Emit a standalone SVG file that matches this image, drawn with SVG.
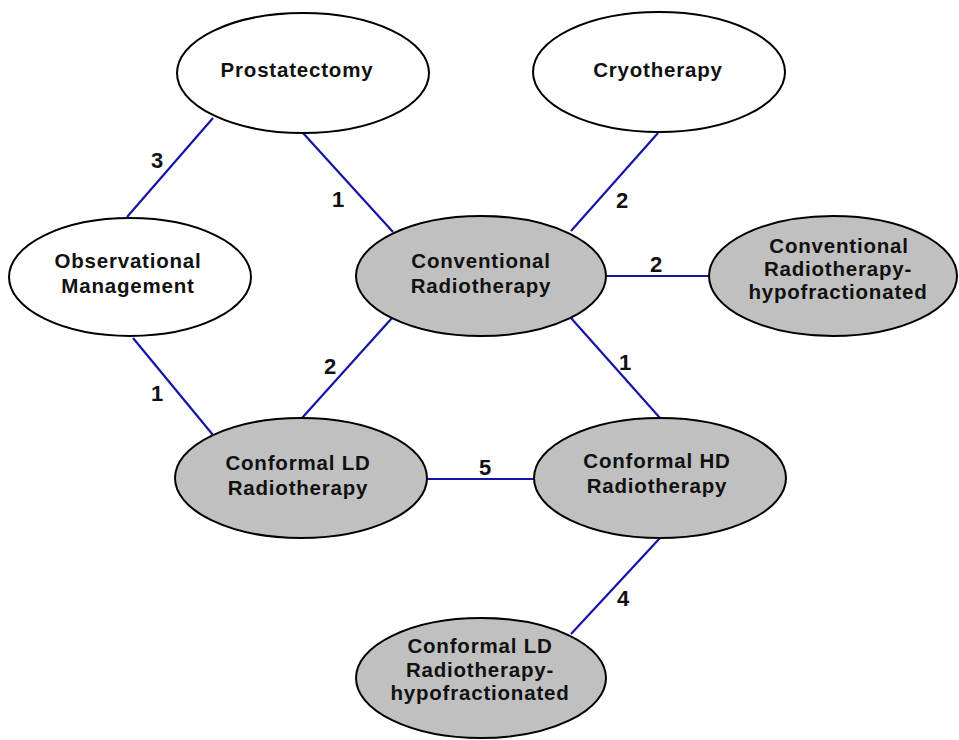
<svg xmlns="http://www.w3.org/2000/svg" width="959" height="740" viewBox="0 0 959 740">
<style>
.n{stroke:#000;stroke-width:2}
.w{fill:#fff}
.g{fill:#c0c0c0}
.t{font-family:"Liberation Sans",Arial,sans-serif;font-weight:bold;font-size:20.5px;letter-spacing:0.8px;fill:#111;text-anchor:middle}
.e{stroke:#1414a8;stroke-width:2.2;fill:none}
.l{font-family:"Liberation Sans",Arial,sans-serif;font-weight:bold;font-size:22px;fill:#111;text-anchor:middle}
</style>
<rect width="959" height="740" fill="#fff"/>
<g id="connectors">
<line class="e" x1="213" y1="118" x2="127" y2="217"/>
<line class="e" x1="303" y1="133" x2="393" y2="232"/>
<line class="e" x1="658" y1="133" x2="571" y2="231"/>
<line class="e" x1="606" y1="276" x2="709" y2="276"/>
<line class="e" x1="571" y1="318" x2="660" y2="418"/>
<line class="e" x1="133" y1="338" x2="213" y2="435"/>
<line class="e" x1="392" y1="318" x2="302" y2="418"/>
<line class="e" x1="427" y1="479" x2="534" y2="479"/>
<line class="e" x1="660" y1="538" x2="571" y2="634"/>
<text class="l" x="157" y="168">3</text>
<text class="l" x="338" y="207">1</text>
<text class="l" x="622" y="208">2</text>
<text class="l" x="656" y="272">2</text>
<text class="l" x="625" y="370">1</text>
<text class="l" x="157" y="401">1</text>
<text class="l" x="330" y="374">2</text>
<text class="l" x="485" y="475">5</text>
<text class="l" x="623" y="606">4</text>
</g>
<g id="prostatectomy">
<ellipse class="n w" cx="303" cy="73" rx="126" ry="60"/>
<text class="t" x="297" y="77">Prostatectomy</text>
</g>
<g id="cryotherapy">
<ellipse class="n w" cx="659" cy="72" rx="126" ry="60"/>
<text class="t" x="658" y="77">Cryotherapy</text>
</g>
<g id="observational">
<ellipse class="n w" cx="130" cy="277" rx="121" ry="59"/>
<text class="t" x="128" y="268">Observational</text>
<text class="t" x="128" y="293">Management</text>
</g>
<g id="conventional">
<ellipse class="n g" cx="481" cy="276" rx="125" ry="60"/>
<text class="t" x="481" y="268">Conventional</text>
<text class="t" x="481" y="293">Radiotherapy</text>
</g>
<g id="conventional-hypo">
<ellipse class="n g" cx="833" cy="276" rx="124" ry="60"/>
<text class="t" x="839" y="253">Conventional</text>
<text class="t" x="838" y="276">Radiotherapy-</text>
<text class="t" x="838" y="299">hypofractionated</text>
</g>
<g id="conformal-ld">
<ellipse class="n g" cx="301" cy="478" rx="126" ry="60"/>
<text class="t" x="298" y="470">Conformal LD</text>
<text class="t" x="298" y="495">Radiotherapy</text>
</g>
<g id="conformal-hd">
<ellipse class="n g" cx="660" cy="478" rx="126" ry="60"/>
<text class="t" x="657" y="468">Conformal HD</text>
<text class="t" x="657" y="493">Radiotherapy</text>
</g>
<g id="conformal-ld-hypo">
<ellipse class="n g" cx="481" cy="678" rx="125" ry="60"/>
<text class="t" x="480" y="653">Conformal LD</text>
<text class="t" x="480" y="677">Radiotherapy-</text>
<text class="t" x="480" y="700">hypofractionated</text>
</g>
</svg>
